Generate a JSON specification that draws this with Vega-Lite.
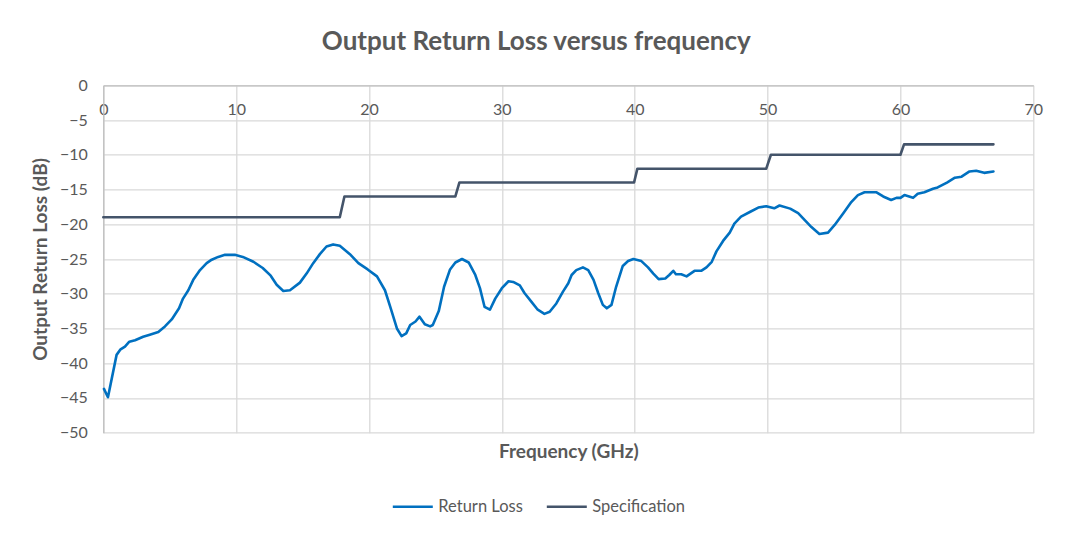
{
  "$schema": "https://vega.github.io/schema/vega-lite/v6.json",
  "width": 930,
  "height": 347.4,
  "autosize": "none",
  "padding": {"left": 103.3, "top": 85.3, "right": 35.7, "bottom": 105.3},
  "background": "white",
  "config": {"font": "Lato", "view": {"stroke": null}},
  "title": {"text": "Output Return Loss versus frequency", "fontSize": 26, "font": "Lato", "fontWeight": "bold", "color": "#595959", "frame": "group", "anchor": "middle", "dx": -32, "offset": 22},
  "data": {"values": [
    {"freq": 0, "loss": -19, "series": "Specification"},
    {"freq": 17.8, "loss": -19, "series": "Specification"},
    {"freq": 18.15, "loss": -16, "series": "Specification"},
    {"freq": 26.5, "loss": -16, "series": "Specification"},
    {"freq": 26.8, "loss": -14, "series": "Specification"},
    {"freq": 39.95, "loss": -14, "series": "Specification"},
    {"freq": 40.2, "loss": -12, "series": "Specification"},
    {"freq": 49.9, "loss": -12, "series": "Specification"},
    {"freq": 50.25, "loss": -10, "series": "Specification"},
    {"freq": 60.0, "loss": -10, "series": "Specification"},
    {"freq": 60.27, "loss": -8.5, "series": "Specification"},
    {"freq": 67.0, "loss": -8.5, "series": "Specification"},
    {"freq": 0.05, "loss": -43.7, "series": "Return Loss"},
    {"freq": 0.35, "loss": -44.9, "series": "Return Loss"},
    {"freq": 1.0, "loss": -38.8, "series": "Return Loss"},
    {"freq": 1.3, "loss": -38.0, "series": "Return Loss"},
    {"freq": 1.63, "loss": -37.6, "series": "Return Loss"},
    {"freq": 1.96, "loss": -36.9, "series": "Return Loss"},
    {"freq": 2.39, "loss": -36.7, "series": "Return Loss"},
    {"freq": 3.0, "loss": -36.2, "series": "Return Loss"},
    {"freq": 3.5, "loss": -35.9, "series": "Return Loss"},
    {"freq": 4.14, "loss": -35.5, "series": "Return Loss"},
    {"freq": 4.64, "loss": -34.7, "series": "Return Loss"},
    {"freq": 5.15, "loss": -33.7, "series": "Return Loss"},
    {"freq": 5.7, "loss": -32.1, "series": "Return Loss"},
    {"freq": 6.0, "loss": -30.7, "series": "Return Loss"},
    {"freq": 6.4, "loss": -29.5, "series": "Return Loss"},
    {"freq": 6.77, "loss": -28.0, "series": "Return Loss"},
    {"freq": 7.28, "loss": -26.6, "series": "Return Loss"},
    {"freq": 7.78, "loss": -25.6, "series": "Return Loss"},
    {"freq": 8.16, "loss": -25.1, "series": "Return Loss"},
    {"freq": 8.65, "loss": -24.7, "series": "Return Loss"},
    {"freq": 9.16, "loss": -24.4, "series": "Return Loss"},
    {"freq": 9.9, "loss": -24.4, "series": "Return Loss"},
    {"freq": 10.5, "loss": -24.7, "series": "Return Loss"},
    {"freq": 11.3, "loss": -25.4, "series": "Return Loss"},
    {"freq": 12.0, "loss": -26.3, "series": "Return Loss"},
    {"freq": 12.6, "loss": -27.4, "series": "Return Loss"},
    {"freq": 13.05, "loss": -28.7, "series": "Return Loss"},
    {"freq": 13.55, "loss": -29.6, "series": "Return Loss"},
    {"freq": 14.05, "loss": -29.5, "series": "Return Loss"},
    {"freq": 14.8, "loss": -28.4, "series": "Return Loss"},
    {"freq": 15.3, "loss": -27.1, "series": "Return Loss"},
    {"freq": 15.8, "loss": -25.6, "series": "Return Loss"},
    {"freq": 16.3, "loss": -24.3, "series": "Return Loss"},
    {"freq": 16.8, "loss": -23.2, "series": "Return Loss"},
    {"freq": 17.3, "loss": -22.9, "series": "Return Loss"},
    {"freq": 17.8, "loss": -23.1, "series": "Return Loss"},
    {"freq": 18.56, "loss": -24.3, "series": "Return Loss"},
    {"freq": 19.2, "loss": -25.6, "series": "Return Loss"},
    {"freq": 19.9, "loss": -26.5, "series": "Return Loss"},
    {"freq": 20.6, "loss": -27.5, "series": "Return Loss"},
    {"freq": 21.2, "loss": -29.5, "series": "Return Loss"},
    {"freq": 21.6, "loss": -31.9, "series": "Return Loss"},
    {"freq": 22.1, "loss": -35.0, "series": "Return Loss"},
    {"freq": 22.45, "loss": -36.1, "series": "Return Loss"},
    {"freq": 22.8, "loss": -35.7, "series": "Return Loss"},
    {"freq": 23.1, "loss": -34.5, "series": "Return Loss"},
    {"freq": 23.5, "loss": -34.0, "series": "Return Loss"},
    {"freq": 23.8, "loss": -33.3, "series": "Return Loss"},
    {"freq": 24.2, "loss": -34.4, "series": "Return Loss"},
    {"freq": 24.6, "loss": -34.7, "series": "Return Loss"},
    {"freq": 24.8, "loss": -34.5, "series": "Return Loss"},
    {"freq": 25.25, "loss": -32.5, "series": "Return Loss"},
    {"freq": 25.65, "loss": -29.0, "series": "Return Loss"},
    {"freq": 26.1, "loss": -26.5, "series": "Return Loss"},
    {"freq": 26.5, "loss": -25.5, "series": "Return Loss"},
    {"freq": 27.0, "loss": -25.0, "series": "Return Loss"},
    {"freq": 27.5, "loss": -25.5, "series": "Return Loss"},
    {"freq": 28.0, "loss": -27.3, "series": "Return Loss"},
    {"freq": 28.35, "loss": -29.2, "series": "Return Loss"},
    {"freq": 28.7, "loss": -31.9, "series": "Return Loss"},
    {"freq": 29.1, "loss": -32.3, "series": "Return Loss"},
    {"freq": 29.5, "loss": -30.7, "series": "Return Loss"},
    {"freq": 30.0, "loss": -29.2, "series": "Return Loss"},
    {"freq": 30.5, "loss": -28.2, "series": "Return Loss"},
    {"freq": 30.85, "loss": -28.3, "series": "Return Loss"},
    {"freq": 31.35, "loss": -28.8, "series": "Return Loss"},
    {"freq": 31.7, "loss": -29.9, "series": "Return Loss"},
    {"freq": 32.2, "loss": -31.1, "series": "Return Loss"},
    {"freq": 32.7, "loss": -32.3, "series": "Return Loss"},
    {"freq": 33.2, "loss": -32.9, "series": "Return Loss"},
    {"freq": 33.6, "loss": -32.6, "series": "Return Loss"},
    {"freq": 34.1, "loss": -31.4, "series": "Return Loss"},
    {"freq": 34.6, "loss": -29.7, "series": "Return Loss"},
    {"freq": 35.0, "loss": -28.5, "series": "Return Loss"},
    {"freq": 35.25, "loss": -27.3, "series": "Return Loss"},
    {"freq": 35.6, "loss": -26.6, "series": "Return Loss"},
    {"freq": 36.1, "loss": -26.2, "series": "Return Loss"},
    {"freq": 36.5, "loss": -26.6, "series": "Return Loss"},
    {"freq": 36.9, "loss": -28.0, "series": "Return Loss"},
    {"freq": 37.25, "loss": -29.9, "series": "Return Loss"},
    {"freq": 37.6, "loss": -31.6, "series": "Return Loss"},
    {"freq": 37.9, "loss": -32.1, "series": "Return Loss"},
    {"freq": 38.25, "loss": -31.6, "series": "Return Loss"},
    {"freq": 38.6, "loss": -29.0, "series": "Return Loss"},
    {"freq": 39.1, "loss": -26.0, "series": "Return Loss"},
    {"freq": 39.5, "loss": -25.3, "series": "Return Loss"},
    {"freq": 39.9, "loss": -25.0, "series": "Return Loss"},
    {"freq": 40.5, "loss": -25.3, "series": "Return Loss"},
    {"freq": 41.0, "loss": -26.2, "series": "Return Loss"},
    {"freq": 41.4, "loss": -27.1, "series": "Return Loss"},
    {"freq": 41.8, "loss": -27.9, "series": "Return Loss"},
    {"freq": 42.3, "loss": -27.8, "series": "Return Loss"},
    {"freq": 42.6, "loss": -27.3, "series": "Return Loss"},
    {"freq": 42.9, "loss": -26.7, "series": "Return Loss"},
    {"freq": 43.1, "loss": -27.2, "series": "Return Loss"},
    {"freq": 43.5, "loss": -27.2, "series": "Return Loss"},
    {"freq": 43.9, "loss": -27.5, "series": "Return Loss"},
    {"freq": 44.5, "loss": -26.7, "series": "Return Loss"},
    {"freq": 45.0, "loss": -26.7, "series": "Return Loss"},
    {"freq": 45.4, "loss": -26.2, "series": "Return Loss"},
    {"freq": 45.8, "loss": -25.4, "series": "Return Loss"},
    {"freq": 46.15, "loss": -23.9, "series": "Return Loss"},
    {"freq": 46.65, "loss": -22.4, "series": "Return Loss"},
    {"freq": 47.15, "loss": -21.2, "series": "Return Loss"},
    {"freq": 47.5, "loss": -19.9, "series": "Return Loss"},
    {"freq": 48.0, "loss": -18.9, "series": "Return Loss"},
    {"freq": 48.7, "loss": -18.2, "series": "Return Loss"},
    {"freq": 49.3, "loss": -17.6, "series": "Return Loss"},
    {"freq": 49.9, "loss": -17.4, "series": "Return Loss"},
    {"freq": 50.5, "loss": -17.7, "series": "Return Loss"},
    {"freq": 50.9, "loss": -17.3, "series": "Return Loss"},
    {"freq": 51.7, "loss": -17.75, "series": "Return Loss"},
    {"freq": 52.3, "loss": -18.4, "series": "Return Loss"},
    {"freq": 52.8, "loss": -19.4, "series": "Return Loss"},
    {"freq": 53.3, "loss": -20.4, "series": "Return Loss"},
    {"freq": 53.9, "loss": -21.4, "series": "Return Loss"},
    {"freq": 54.55, "loss": -21.2, "series": "Return Loss"},
    {"freq": 55.05, "loss": -20.1, "series": "Return Loss"},
    {"freq": 55.7, "loss": -18.4, "series": "Return Loss"},
    {"freq": 56.3, "loss": -16.8, "series": "Return Loss"},
    {"freq": 56.8, "loss": -15.8, "series": "Return Loss"},
    {"freq": 57.3, "loss": -15.4, "series": "Return Loss"},
    {"freq": 58.2, "loss": -15.4, "series": "Return Loss"},
    {"freq": 58.7, "loss": -16.0, "series": "Return Loss"},
    {"freq": 59.3, "loss": -16.5, "series": "Return Loss"},
    {"freq": 59.7, "loss": -16.2, "series": "Return Loss"},
    {"freq": 60.0, "loss": -16.2, "series": "Return Loss"},
    {"freq": 60.3, "loss": -15.8, "series": "Return Loss"},
    {"freq": 60.95, "loss": -16.2, "series": "Return Loss"},
    {"freq": 61.3, "loss": -15.6, "series": "Return Loss"},
    {"freq": 61.8, "loss": -15.4, "series": "Return Loss"},
    {"freq": 62.45, "loss": -14.9, "series": "Return Loss"},
    {"freq": 62.8, "loss": -14.7, "series": "Return Loss"},
    {"freq": 63.5, "loss": -14.0, "series": "Return Loss"},
    {"freq": 64.1, "loss": -13.3, "series": "Return Loss"},
    {"freq": 64.6, "loss": -13.15, "series": "Return Loss"},
    {"freq": 65.2, "loss": -12.4, "series": "Return Loss"},
    {"freq": 65.7, "loss": -12.3, "series": "Return Loss"},
    {"freq": 66.3, "loss": -12.6, "series": "Return Loss"},
    {"freq": 67.0, "loss": -12.4, "series": "Return Loss"}
  ]},
  "mark": {"type": "line", "strokeWidth": 2.6, "strokeCap": "round", "strokeJoin": "round"},
  "encoding": {
    "x": {
      "field": "freq", "type": "quantitative",
      "scale": {"domain": [0, 70], "nice": false, "zero": false},
      "axis": {
        "orient": "bottom", "offset": -347.4,
        "values": [0, 10, 20, 30, 40, 50, 60, 70],
        "title": "Frequency (GHz)", "titleFont": "Lato", "titleFontSize": 19, "titleFontWeight": "bold", "titleColor": "#595959",
        "titleY": 366, "titleBaseline": "middle",
        "labelFont": "Lato", "labelFontSize": 16, "labelColor": "#595959", "labelPadding": 16,
        "ticks": false, "domainColor": "#BFBFBF", "domainWidth": 1.3,
        "grid": true, "gridColor": "#D9D9D9", "gridWidth": 1.3,
        "labelFlush": false, "labelBound": false
      }
    },
    "y": {
      "field": "loss", "type": "quantitative",
      "scale": {"domain": [-50, 0], "nice": false, "zero": false},
      "axis": {
        "values": [-50, -45, -40, -35, -30, -25, -20, -15, -10, -5, 0],
        "title": "Output Return Loss (dB)", "titleFont": "Lato", "titleFontSize": 19, "titleFontWeight": "bold", "titleColor": "#595959",
        "titlePadding": 9,
        "labelFont": "Lato", "labelFontSize": 16, "labelColor": "#595959", "labelPadding": 16,
        "ticks": false, "domainColor": "#BFBFBF", "domainWidth": 1.3,
        "grid": true, "gridColor": "#D9D9D9", "gridWidth": 1.3
      }
    },
    "color": {
      "field": "series", "type": "nominal",
      "scale": {"domain": ["Return Loss", "Specification"], "range": ["#0070C0", "#44546A"]},
      "legend": {
        "title": null, "orient": "none", "direction": "horizontal",
        "legendX": 288, "legendY": 400,
        "symbolType": "stroke", "symbolSize": 1600, "symbolStrokeWidth": 2.6,
        "labelFont": "Lato", "labelFontSize": 16.5, "labelColor": "#595959", "labelOffset": 4,
        "columnPadding": 18
      }
    }
  }
}
